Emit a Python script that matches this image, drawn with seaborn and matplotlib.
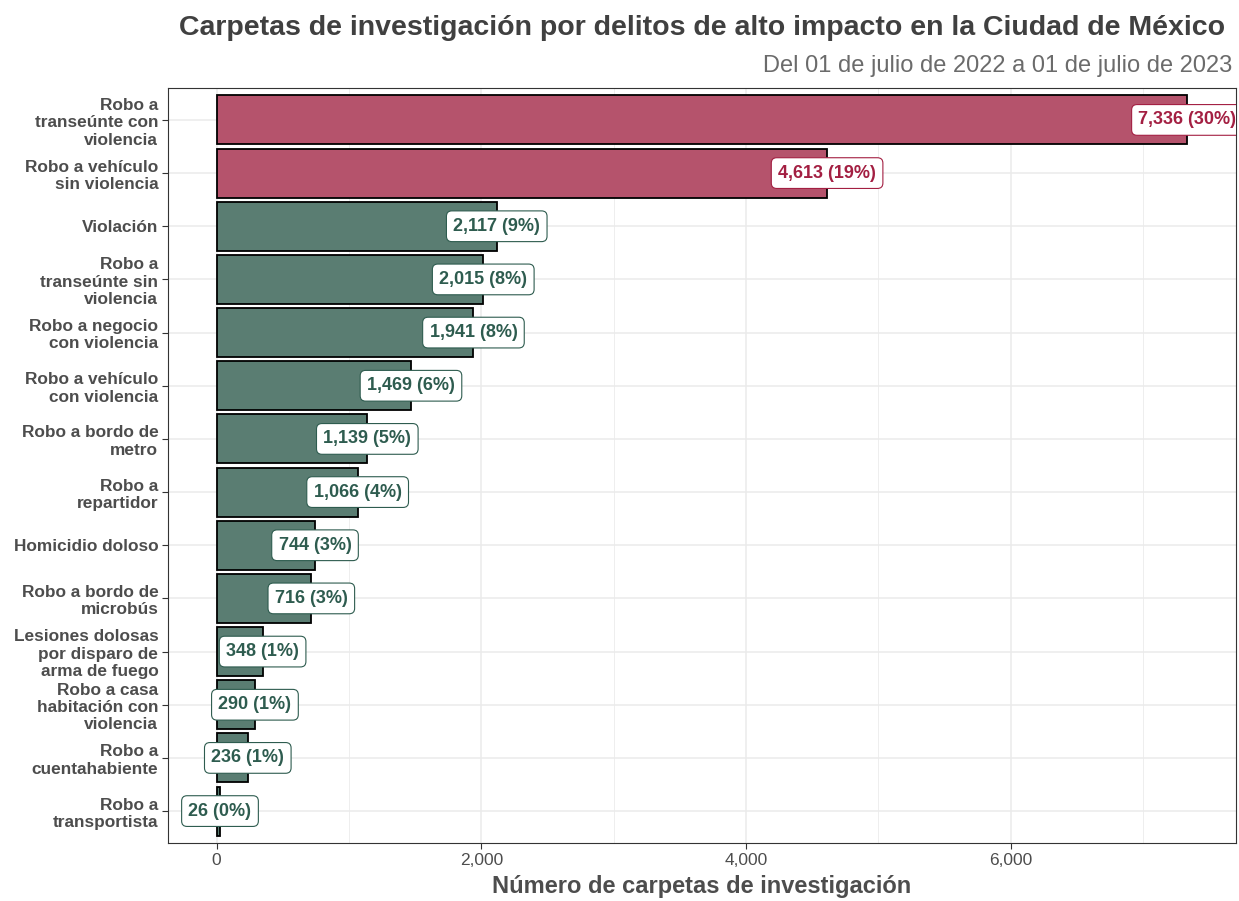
import pandas as pd
import matplotlib.pyplot as plt
import seaborn as sns
from matplotlib.ticker import FuncFormatter, MultipleLocator

# Datos: carpetas de investigación por delito (CDMX)
delitos = [
    "Robo a\ntranseúnte con\nviolencia",
    "Robo a vehículo\nsin violencia",
    "Violación",
    "Robo a\ntranseúnte sin\nviolencia",
    "Robo a negocio\ncon violencia",
    "Robo a vehículo\ncon violencia",
    "Robo a bordo de\nmetro",
    "Robo a\nrepartidor",
    "Homicidio doloso",
    "Robo a bordo de\nmicrobús",
    "Lesiones dolosas\npor disparo de\narma de fuego",
    "Robo a casa\nhabitación con\nviolencia",
    "Robo a\ncuentahabiente",
    "Robo a\ntransportista",
]
carpetas = [7336, 4613, 2117, 2015, 1941, 1469, 1139, 1066, 744, 716, 348, 290, 236, 26]
grupo = ["alto", "alto"] + ["resto"] * 12

df = pd.DataFrame({"delito": delitos, "carpetas": carpetas, "grupo": grupo})
total = df["carpetas"].sum()
df["etiqueta"] = [f"{v:,} ({round(v / total * 100):.0f}%)" for v in df["carpetas"]]

colores_barra = {"alto": "#B5536C", "resto": "#5A7D72"}
colores_texto = {"alto": "#A31F42", "resto": "#2E5C4F"}

sns.set_theme(style="white")
plt.rcParams["font.family"] = ["Liberation Sans", "DejaVu Sans"]

fig = plt.figure(figsize=(12.39, 9.01), dpi=100)
ax = fig.add_axes([0.1356, 0.0644, 0.862, 0.8379])

sns.barplot(data=df, x="carpetas", y="delito", hue="grupo", palette=colores_barra,
            order=delitos, orient="h", width=0.92, edgecolor="black", linewidth=1.3,
            dodge=False, legend=False, ax=ax, saturation=1, zorder=3)

# etiquetas con caja (recortadas por el panel como en el original)
for i, row in df.iterrows():
    c = colores_texto[row["grupo"]]
    ax.text(row["carpetas"], i, row["etiqueta"], ha="center", va="center",
            fontsize=13, fontweight="bold", color=c, zorder=5, clip_on=True,
            bbox=dict(boxstyle="round,pad=0.38,rounding_size=0.3", fc="white", ec=c, lw=0.8))

# expansión del 5% como en ggplot
rango = max(carpetas)
ax.set_xlim(-0.05 * rango, 1.05 * rango)
ax.set_ylim(13.6, -0.6)
ax.xaxis.set_major_locator(MultipleLocator(2000))
ax.xaxis.set_minor_locator(MultipleLocator(1000))
ax.xaxis.set_major_formatter(FuncFormatter(lambda v, p: f"{int(v):,}"))

ax.grid(which="major", axis="both", color="#EBEBEB", lw=1.1, zorder=0)
ax.grid(which="minor", axis="x", color="#EBEBEB", lw=0.6, zorder=0)
ax.set_axisbelow(True)

for s in ax.spines.values():
    s.set_color("#333333")
    s.set_linewidth(0.8)

ax.tick_params(axis="both", which="major", length=4, width=0.8, color="#333333",
               left=True, bottom=True)
ax.tick_params(axis="x", labelsize=12.5, labelcolor="#4D4D4D", pad=3)
ax.tick_params(axis="y", labelsize=12.4, labelcolor="#4D4D4D", pad=3)
for lab in ax.get_yticklabels():
    lab.set_fontweight("bold")
    lab.set_multialignment("right")
    lab.set_linespacing(1.2)

ax.set_ylabel("")
ax.set_xlabel("Número de carpetas de investigación", fontsize=17, fontweight="bold",
              color="#4D4D4D", labelpad=5)

fig.text(0.9887, 0.969, "Carpetas de investigación por delitos de alto impacto en la Ciudad de México",
         ha="right", va="center", fontsize=20.5, fontweight="bold", color="#404040")
fig.text(0.9944, 0.927, "Del 01 de julio de 2022 a 01 de julio de 2023",
         ha="right", va="center", fontsize=17, color="#6B6B6B")

fig.savefig("out.png", dpi=100)
